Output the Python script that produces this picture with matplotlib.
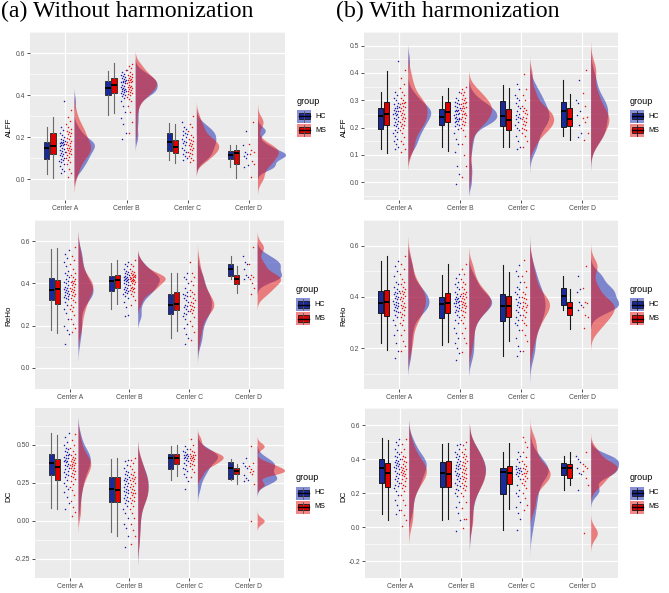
import numpy as np
import matplotlib
matplotlib.use("Agg")
import matplotlib.pyplot as plt
from matplotlib.patches import Rectangle

# ---------------- data ----------------
centers = ["Center A", "Center B", "Center C", "Center D"]
groups = ["HC", "MS"]
group_n = [130, 130, 30, 8]   # rough group sizes, used for how far each density reaches

# box stats per center: (whisker low, q1, median, q3, whisker high)
alff_a_box_hc = [(0.022, 0.097, 0.149, 0.177, 0.246), (0.306, 0.400, 0.431, 0.469, 0.513),
                 (0.091, 0.133, 0.176, 0.218, 0.267), (0.055, 0.095, 0.112, 0.133, 0.160)]
alff_a_box_ms = [(0.006, 0.118, 0.157, 0.218, 0.297), (0.315, 0.409, 0.446, 0.481, 0.552),
                 (0.078, 0.125, 0.152, 0.188, 0.264), (0.007, 0.070, 0.122, 0.137, 0.163)]
alff_a_hc = [
    [0.03, 0.04, 0.05, 0.06, 0.07, 0.08, 0.085, 0.09, 0.095, 0.10, 0.11, 0.115, 0.12, 0.125, 0.13, 0.135, 0.14, 0.145,
     0.15, 0.155, 0.16, 0.16, 0.165, 0.17, 0.17, 0.175, 0.175, 0.18, 0.185, 0.19, 0.20, 0.21, 0.22, 0.235, 0.25, 0.37],
    [0.19, 0.22, 0.26, 0.29, 0.32, 0.35, 0.37, 0.385, 0.395, 0.40, 0.405, 0.41, 0.415, 0.42, 0.42, 0.425, 0.43, 0.43,
     0.435, 0.44, 0.445, 0.45, 0.455, 0.46, 0.46, 0.465, 0.465, 0.47, 0.475, 0.48, 0.485, 0.49, 0.495, 0.50, 0.51, 0.52],
    [0.09, 0.10, 0.11, 0.12, 0.13, 0.14, 0.15, 0.16, 0.17, 0.175, 0.18, 0.19, 0.20, 0.21, 0.215, 0.22, 0.23, 0.24,
     0.25, 0.27],
    [0.055, 0.065, 0.10, 0.11, 0.12, 0.13, 0.16, 0.23]]
alff_a_ms = [
    [0.01, 0.03, 0.05, 0.07, 0.08, 0.09, 0.10, 0.105, 0.115, 0.12, 0.125, 0.13, 0.135, 0.14, 0.145, 0.15, 0.15, 0.155,
     0.16, 0.165, 0.17, 0.175, 0.18, 0.19, 0.195, 0.205, 0.215, 0.22, 0.225, 0.23, 0.24, 0.25, 0.26, 0.275, 0.295, 0.33],
    [0.22, 0.27, 0.32, 0.35, 0.37, 0.38, 0.39, 0.40, 0.405, 0.41, 0.415, 0.42, 0.425, 0.43, 0.435, 0.44, 0.44, 0.445,
     0.45, 0.455, 0.46, 0.46, 0.465, 0.47, 0.47, 0.475, 0.48, 0.485, 0.49, 0.495, 0.50, 0.51, 0.52, 0.53, 0.54, 0.55],
    [0.08, 0.09, 0.10, 0.11, 0.12, 0.125, 0.13, 0.14, 0.145, 0.15, 0.155, 0.16, 0.165, 0.17, 0.18, 0.185, 0.19, 0.20,
     0.21, 0.23, 0.25, 0.26, 0.30],
    [0.01, 0.07, 0.085, 0.12, 0.13, 0.14, 0.165, 0.27]]

alff_b_box_hc = [(0.120, 0.196, 0.242, 0.273, 0.330), (0.130, 0.211, 0.239, 0.269, 0.315),
                 (0.130, 0.207, 0.243, 0.297, 0.357), (0.168, 0.202, 0.260, 0.293, 0.375)]
alff_b_box_ms = [(0.106, 0.208, 0.250, 0.292, 0.409), (0.113, 0.220, 0.258, 0.292, 0.346),
                 (0.130, 0.192, 0.228, 0.267, 0.346), (0.156, 0.207, 0.232, 0.273, 0.324)]
alff_b_hc = [
    [0.12, 0.13, 0.14, 0.15, 0.16, 0.17, 0.18, 0.185, 0.19, 0.20, 0.205, 0.21, 0.215, 0.22, 0.225, 0.23, 0.235, 0.24,
     0.245, 0.25, 0.25, 0.255, 0.26, 0.26, 0.265, 0.27, 0.27, 0.275, 0.28, 0.285, 0.29, 0.30, 0.31, 0.32, 0.33, 0.445],
    [-0.005, 0.03, 0.06, 0.11, 0.14, 0.16, 0.18, 0.195, 0.205, 0.21, 0.215, 0.22, 0.225, 0.225, 0.23, 0.23, 0.235, 0.235,
     0.24, 0.245, 0.25, 0.25, 0.255, 0.26, 0.26, 0.265, 0.265, 0.27, 0.275, 0.28, 0.285, 0.29, 0.295, 0.30, 0.31, 0.33],
    [0.12, 0.13, 0.15, 0.17, 0.19, 0.20, 0.21, 0.22, 0.23, 0.235, 0.24, 0.245, 0.25, 0.26, 0.27, 0.28, 0.29, 0.30,
     0.31, 0.32, 0.34, 0.36],
    [0.165, 0.18, 0.21, 0.245, 0.26, 0.29, 0.30, 0.375]]
alff_b_ms = [
    [0.11, 0.12, 0.14, 0.15, 0.165, 0.18, 0.19, 0.20, 0.205, 0.21, 0.215, 0.22, 0.225, 0.23, 0.235, 0.24, 0.245, 0.25,
     0.255, 0.26, 0.265, 0.27, 0.275, 0.28, 0.285, 0.29, 0.29, 0.295, 0.30, 0.31, 0.32, 0.33, 0.345, 0.36, 0.38, 0.41],
    [0.02, 0.06, 0.10, 0.14, 0.17, 0.19, 0.20, 0.21, 0.215, 0.22, 0.225, 0.23, 0.235, 0.24, 0.245, 0.25, 0.25, 0.255,
     0.26, 0.265, 0.27, 0.27, 0.275, 0.28, 0.285, 0.29, 0.29, 0.295, 0.30, 0.305, 0.31, 0.32, 0.325, 0.33, 0.34, 0.35],
    [0.13, 0.15, 0.17, 0.18, 0.19, 0.195, 0.20, 0.21, 0.215, 0.22, 0.225, 0.23, 0.235, 0.24, 0.25, 0.255, 0.26, 0.265,
     0.27, 0.28, 0.30, 0.32, 0.34, 0.395],
    [0.155, 0.18, 0.22, 0.235, 0.24, 0.28, 0.325, 0.41]]

reho_a_box_hc = [(0.180, 0.321, 0.369, 0.427, 0.561), (0.280, 0.364, 0.411, 0.437, 0.498),
                 (0.140, 0.256, 0.298, 0.350, 0.448), (0.420, 0.435, 0.467, 0.494, 0.530)]
reho_a_box_ms = [(0.166, 0.303, 0.374, 0.415, 0.566), (0.303, 0.380, 0.417, 0.439, 0.509),
                 (0.173, 0.274, 0.303, 0.360, 0.448), (0.354, 0.399, 0.421, 0.442, 0.482)]
reho_a_hc = [
    [0.115, 0.16, 0.18, 0.20, 0.23, 0.26, 0.28, 0.30, 0.31, 0.325, 0.33, 0.335, 0.34, 0.345, 0.35, 0.355, 0.36, 0.365,
     0.37, 0.375, 0.38, 0.385, 0.39, 0.40, 0.405, 0.41, 0.42, 0.43, 0.44, 0.45, 0.46, 0.48, 0.50, 0.52, 0.54, 0.56],
    [0.245, 0.25, 0.29, 0.31, 0.33, 0.34, 0.35, 0.355, 0.36, 0.365, 0.37, 0.375, 0.38, 0.385, 0.39, 0.395, 0.40, 0.405,
     0.41, 0.415, 0.415, 0.42, 0.42, 0.425, 0.43, 0.43, 0.435, 0.44, 0.445, 0.45, 0.455, 0.46, 0.47, 0.48, 0.49, 0.50],
    [0.115, 0.14, 0.16, 0.19, 0.21, 0.23, 0.245, 0.255, 0.26, 0.27, 0.28, 0.29, 0.295, 0.30, 0.31, 0.32, 0.33, 0.34,
     0.345, 0.35, 0.36, 0.38, 0.40, 0.42, 0.43, 0.45],
    [0.42, 0.43, 0.44, 0.47, 0.49, 0.50, 0.53]]
reho_a_ms = [
    [0.17, 0.19, 0.21, 0.23, 0.25, 0.27, 0.28, 0.29, 0.30, 0.31, 0.32, 0.33, 0.34, 0.345, 0.35, 0.36, 0.365, 0.37,
     0.375, 0.38, 0.385, 0.39, 0.395, 0.40, 0.405, 0.41, 0.41, 0.42, 0.43, 0.44, 0.45, 0.47, 0.49, 0.51, 0.53, 0.57],
    [0.30, 0.32, 0.34, 0.35, 0.36, 0.365, 0.37, 0.375, 0.378, 0.38, 0.385, 0.39, 0.395, 0.40, 0.405, 0.41, 0.41, 0.415,
     0.418, 0.42, 0.422, 0.425, 0.428, 0.43, 0.432, 0.435, 0.438, 0.44, 0.445, 0.45, 0.455, 0.46, 0.47, 0.48, 0.49, 0.51],
    [0.13, 0.17, 0.20, 0.22, 0.24, 0.26, 0.27, 0.275, 0.28, 0.29, 0.295, 0.30, 0.305, 0.31, 0.32, 0.33, 0.34, 0.35,
     0.36, 0.37, 0.39, 0.41, 0.43, 0.45, 0.50],
    [0.35, 0.38, 0.40, 0.42, 0.43, 0.44, 0.49, 0.57]]

reho_b_box_hc = [(0.219, 0.339, 0.378, 0.422, 0.539), (0.212, 0.316, 0.372, 0.401, 0.487),
                 (0.170, 0.306, 0.366, 0.412, 0.523), (0.350, 0.370, 0.402, 0.435, 0.480)]
reho_b_box_ms = [(0.193, 0.324, 0.381, 0.427, 0.560), (0.224, 0.339, 0.376, 0.417, 0.529),
                 (0.228, 0.322, 0.366, 0.405, 0.499), (0.276, 0.328, 0.358, 0.381, 0.432)]
reho_b_hc = [
    [0.16, 0.19, 0.22, 0.25, 0.27, 0.29, 0.31, 0.32, 0.33, 0.34, 0.345, 0.35, 0.355, 0.36, 0.365, 0.37, 0.372, 0.375,
     0.38, 0.385, 0.39, 0.395, 0.40, 0.405, 0.41, 0.415, 0.42, 0.425, 0.43, 0.44, 0.45, 0.46, 0.48, 0.50, 0.52, 0.54],
    [0.155, 0.18, 0.20, 0.22, 0.24, 0.26, 0.28, 0.30, 0.31, 0.32, 0.33, 0.34, 0.345, 0.35, 0.355, 0.36, 0.365, 0.37,
     0.375, 0.378, 0.38, 0.383, 0.386, 0.39, 0.393, 0.396, 0.40, 0.405, 0.41, 0.42, 0.43, 0.44, 0.45, 0.46, 0.475, 0.49],
    [0.17, 0.19, 0.21, 0.24, 0.27, 0.29, 0.30, 0.31, 0.32, 0.33, 0.34, 0.35, 0.36, 0.37, 0.375, 0.38, 0.39, 0.40,
     0.41, 0.42, 0.43, 0.44, 0.46, 0.48, 0.50, 0.525],
    [0.35, 0.37, 0.38, 0.42, 0.43, 0.48]]
reho_b_ms = [
    [0.19, 0.21, 0.23, 0.25, 0.27, 0.29, 0.30, 0.31, 0.32, 0.33, 0.335, 0.34, 0.35, 0.355, 0.36, 0.365, 0.37, 0.375,
     0.385, 0.39, 0.395, 0.40, 0.405, 0.41, 0.415, 0.42, 0.425, 0.43, 0.44, 0.45, 0.46, 0.47, 0.49, 0.51, 0.53, 0.56],
    [0.185, 0.22, 0.24, 0.26, 0.28, 0.30, 0.31, 0.32, 0.33, 0.34, 0.345, 0.35, 0.355, 0.36, 0.365, 0.37, 0.372, 0.375,
     0.38, 0.385, 0.39, 0.395, 0.40, 0.405, 0.41, 0.412, 0.415, 0.42, 0.43, 0.44, 0.45, 0.46, 0.47, 0.49, 0.51, 0.53],
    [0.19, 0.23, 0.25, 0.27, 0.29, 0.30, 0.31, 0.32, 0.33, 0.34, 0.35, 0.355, 0.36, 0.365, 0.37, 0.375, 0.38, 0.39,
     0.395, 0.40, 0.41, 0.42, 0.44, 0.46, 0.48, 0.50, 0.545],
    [0.28, 0.32, 0.33, 0.36, 0.375, 0.38, 0.435, 0.52]]

dc_a_box_hc = [(0.083, 0.299, 0.380, 0.438, 0.575), (-0.070, 0.126, 0.209, 0.286, 0.404),
               (0.271, 0.342, 0.410, 0.436, 0.489), (0.267, 0.278, 0.348, 0.389, 0.406)]
dc_a_box_ms = [(0.075, 0.271, 0.355, 0.408, 0.566), (-0.096, 0.126, 0.205, 0.286, 0.410),
               (0.293, 0.372, 0.410, 0.436, 0.498), (0.244, 0.308, 0.325, 0.344, 0.374)]
dc_a_hc = [
    [0.08, 0.12, 0.16, 0.19, 0.21, 0.23, 0.25, 0.27, 0.29, 0.30, 0.31, 0.32, 0.33, 0.34, 0.35, 0.36, 0.37, 0.375,
     0.385, 0.39, 0.395, 0.40, 0.41, 0.415, 0.42, 0.43, 0.435, 0.44, 0.45, 0.46, 0.47, 0.48, 0.50, 0.52, 0.55, 0.58],
    [-0.17, -0.10, -0.05, -0.02, 0.02, 0.05, 0.08, 0.10, 0.12, 0.13, 0.14, 0.15, 0.16, 0.17, 0.18, 0.19, 0.195, 0.205,
     0.21, 0.22, 0.23, 0.24, 0.25, 0.26, 0.27, 0.275, 0.28, 0.29, 0.30, 0.31, 0.32, 0.33, 0.35, 0.37, 0.39, 0.40],
    [0.21, 0.26, 0.29, 0.31, 0.33, 0.34, 0.35, 0.37, 0.38, 0.39, 0.40, 0.41, 0.415, 0.42, 0.425, 0.43, 0.435, 0.44,
     0.45, 0.46, 0.47, 0.49],
    [0.26, 0.27, 0.28, 0.30, 0.35, 0.36, 0.38, 0.41]]
dc_a_ms = [
    [0.03, 0.06, 0.09, 0.13, 0.17, 0.20, 0.22, 0.24, 0.26, 0.275, 0.285, 0.295, 0.305, 0.315, 0.325, 0.335, 0.345, 0.35,
     0.36, 0.365, 0.37, 0.375, 0.38, 0.385, 0.39, 0.40, 0.405, 0.41, 0.42, 0.43, 0.44, 0.46, 0.48, 0.50, 0.53, 0.57],
    [-0.15, -0.10, -0.06, -0.02, 0.02, 0.05, 0.08, 0.10, 0.12, 0.13, 0.14, 0.15, 0.16, 0.17, 0.18, 0.185, 0.19, 0.20,
     0.21, 0.22, 0.23, 0.24, 0.25, 0.26, 0.27, 0.275, 0.28, 0.29, 0.30, 0.31, 0.32, 0.34, 0.36, 0.38, 0.40, 0.41],
    [0.29, 0.32, 0.34, 0.36, 0.37, 0.375, 0.38, 0.39, 0.40, 0.405, 0.41, 0.415, 0.42, 0.425, 0.43, 0.435, 0.44, 0.45,
     0.46, 0.47, 0.50, 0.54],
    [0.0, 0.24, 0.31, 0.32, 0.33, 0.34, 0.36, 0.38, 0.49]]

dc_b_box_hc = [(0.078, 0.258, 0.349, 0.400, 0.521), (0.040, 0.233, 0.317, 0.384, 0.490),
               (-0.015, 0.193, 0.324, 0.348, 0.444), (0.217, 0.306, 0.348, 0.378, 0.415)]
dc_b_box_ms = [(0.040, 0.238, 0.315, 0.375, 0.512), (0.045, 0.238, 0.312, 0.387, 0.495),
               (0.105, 0.255, 0.315, 0.360, 0.495), (0.245, 0.290, 0.345, 0.370, 0.440)]
dc_b_hc = [
    [0.075, 0.10, 0.13, 0.16, 0.19, 0.21, 0.23, 0.24, 0.25, 0.26, 0.27, 0.28, 0.29, 0.30, 0.31, 0.32, 0.33, 0.34,
     0.35, 0.355, 0.36, 0.365, 0.37, 0.375, 0.38, 0.39, 0.395, 0.40, 0.41, 0.42, 0.43, 0.44, 0.46, 0.48, 0.50, 0.52],
    [-0.025, 0.04, 0.08, 0.12, 0.15, 0.18, 0.20, 0.215, 0.225, 0.24, 0.25, 0.26, 0.27, 0.28, 0.29, 0.30, 0.305, 0.31,
     0.32, 0.33, 0.34, 0.345, 0.35, 0.36, 0.365, 0.37, 0.38, 0.39, 0.40, 0.41, 0.42, 0.43, 0.44, 0.46, 0.48, 0.49],
    [-0.02, 0.05, 0.08, 0.12, 0.15, 0.18, 0.20, 0.22, 0.25, 0.28, 0.30, 0.31, 0.32, 0.325, 0.33, 0.335, 0.34, 0.345,
     0.35, 0.36, 0.38, 0.40, 0.42, 0.44],
    [0.215, 0.31, 0.32, 0.35, 0.38, 0.40, 0.415]]
dc_b_ms = [
    [0.005, 0.04, 0.07, 0.10, 0.13, 0.16, 0.19, 0.21, 0.23, 0.24, 0.25, 0.26, 0.27, 0.28, 0.29, 0.30, 0.305, 0.31,
     0.32, 0.325, 0.33, 0.335, 0.34, 0.35, 0.355, 0.36, 0.37, 0.38, 0.39, 0.40, 0.41, 0.42, 0.44, 0.46, 0.49, 0.52],
    [-0.005, 0.045, 0.05, 0.11, 0.15, 0.18, 0.20, 0.22, 0.23, 0.24, 0.25, 0.26, 0.27, 0.28, 0.29, 0.295, 0.30, 0.31,
     0.315, 0.325, 0.335, 0.34, 0.35, 0.36, 0.365, 0.375, 0.385, 0.39, 0.40, 0.41, 0.42, 0.43, 0.44, 0.46, 0.48, 0.50],
    [0.10, 0.13, 0.17, 0.20, 0.23, 0.25, 0.26, 0.27, 0.28, 0.29, 0.30, 0.31, 0.315, 0.32, 0.33, 0.34, 0.35, 0.36,
     0.37, 0.39, 0.41, 0.44, 0.47, 0.50, 0.53],
    [-0.035, 0.25, 0.29, 0.33, 0.35, 0.36, 0.37, 0.44]]

# axis ticks per panel
alff_a_ticks = [0.0, 0.2, 0.4, 0.6]
alff_b_ticks = [0.0, 0.1, 0.2, 0.3, 0.4, 0.5]
reho_a_ticks = [0.0, 0.2, 0.4, 0.6]
reho_b_ticks = [0.2, 0.4, 0.6]
dc_a_ticks = [-0.25, 0.0, 0.25, 0.50]
dc_b_ticks = [-0.2, 0.0, 0.2, 0.4, 0.6]

# ---------------- style ----------------
W, H = 669, 593
fig = plt.figure(figsize=(W / 100, H / 100), dpi=100)
sans = "Liberation Sans"
serif = "Liberation Serif"
bg = "#EBEBEB"
box_fill = {"HC": "#1B2A9B", "MS": "#E00000"}
pt_col = {"HC": "#1A1AAA", "MS": "#E81010"}
vio_col = {"HC": "#1020B0", "MS": "#E81010"}


def px_axes(l, t, r, b):
    return fig.add_axes([l / W, 1 - b / H, (r - l) / W, (b - t) / H])


def nrd0(v, n):
    sd = v.std(ddof=1)
    iqr = np.percentile(v, 75) - np.percentile(v, 25)
    lo = min(sd, iqr / 1.34) if iqr > 0 else sd
    return 0.9 * lo * n ** -0.2


def kde(vals, n_group):
    v = np.asarray(vals, float)
    bw = nrd0(v, len(v))          # smoothing from the listed points
    reach = 3 * nrd0(v, n_group)  # how far the density runs past the data
    y = np.linspace(v.min() - reach, v.max() + reach, 400)
    d = np.exp(-0.5 * ((y[:, None] - v[None, :]) / bw) ** 2).sum(1) / (len(v) * bw * np.sqrt(2 * np.pi))
    return y, d


def jitter(n, half):
    return ((np.arange(n) * 0.618034 + 0.3) % 1 - 0.5) * 2 * half


def panel(rect, hc, ms, box_hc, box_ms, ticks, ylim, fmt, harm):
    ax = px_axes(*rect)
    ax.set_facecolor(bg)
    for s in ax.spines.values():
        s.set_visible(False)
    ax.set_xlim(0.42, 4.59)
    ax.set_ylim(*ylim)
    step = ticks[1] - ticks[0]
    minors = [t - step / 2 for t in ticks] + [ticks[-1] + step / 2]
    ax.set_yticks(ticks)
    ax.set_yticklabels([fmt % t for t in ticks])
    ax.set_yticks(minors, minor=True)
    ax.set_xticks(range(1, 5))
    ax.set_xticklabels(centers)
    ax.grid(True, which="major", color="white", lw=0.9, zorder=0)
    ax.grid(True, which="minor", axis="y", color="white", lw=0.45, zorder=0)
    ax.set_axisbelow(True)
    ax.tick_params(which="major", length=2, width=0.6, color="#333333", labelsize=4.9,
                   labelcolor="#4D4D4D", pad=1.5)
    ax.tick_params(which="minor", length=0)
    for lab in ax.get_xticklabels() + ax.get_yticklabels():
        lab.set_family(sans)

    # half violins, area scaled within the panel
    dens = []
    for c in range(4):
        for g, data in (("HC", hc), ("MS", ms)):
            y, d = kde(data[c], max(group_n[c], len(data[c])))
            dens.append((c, g, y, d))
    dmax = max(d.max() for _, _, _, d in dens)
    for c, g, y, d in dens:
        base = c + 1 + 0.14
        ax.fill_betweenx(y, base, base + d / dmax * 0.46, color=vio_col[g], alpha=0.5, lw=0, zorder=2)

    # jittered points
    for g, data, off in (("HC", hc, -0.055), ("MS", ms, 0.052)):
        for c in range(4):
            v = np.asarray(data[c])
            ax.scatter(c + 1 + off + jitter(len(v), 0.045), v, s=1.2, color=pt_col[g], lw=0, zorder=3)

    # boxes
    edge = "#1a1a1a" if harm else "#333333"
    wcol = "#1a1a1a" if harm else "#6a6a6a"
    for g, stats, off in (("HC", box_hc, -0.305), ("MS", box_ms, -0.205)):
        bx = [dict(whislo=s[0], q1=s[1], med=s[2], q3=s[3], whishi=s[4], fliers=[]) for s in stats]
        ax.bxp(bx, positions=[c + 1 + off for c in range(4)], widths=0.085, patch_artist=True,
               showcaps=False, showfliers=False, manage_ticks=False,
               boxprops=dict(facecolor=box_fill[g], edgecolor=edge, lw=0.7),
               whiskerprops=dict(color=wcol, lw=0.8),
               medianprops=dict(color="black", lw=1.4), zorder=4)
    return ax


# overlay for titles, axis titles and legends (pixel coordinates)
ov = fig.add_axes([0, 0, 1, 1], zorder=10)
ov.set_xlim(0, W)
ov.set_ylim(H, 0)
ov.axis("off")
ov.patch.set_alpha(0)

ov.text(1, 0.5, "(a) Without harmonization", family=serif, fontsize=17.2, va="top", ha="left")
ov.text(336, 0.5, "(b) With harmonization", family=serif, fontsize=17.2, va="top", ha="left")

rows = [
    ("ALFF", (alff_a_hc, alff_a_ms, alff_a_box_hc, alff_a_box_ms, alff_a_ticks, (-0.1, 0.645), "%.1f"),
             (alff_b_hc, alff_b_ms, alff_b_box_hc, alff_b_box_ms, alff_b_ticks, (-0.065, 0.535), "%.1f"),
     (30, 32, 285, 200), (364, 32, 618, 200), 127),
    ("ReHo", (reho_a_hc, reho_a_ms, reho_a_box_hc, reho_a_box_ms, reho_a_ticks, (-0.008, 0.677), "%.1f"),
             (reho_b_hc, reho_b_ms, reho_b_box_hc, reho_b_box_ms, reho_b_ticks, (0.041, 0.655), "%.1f"),
     (35, 220, 284, 389), (364, 220, 618, 389), 316),
    ("DC", (dc_a_hc, dc_a_ms, dc_a_box_hc, dc_a_box_ms, dc_a_ticks, (-0.344, 0.741), "%.2f"),
           (dc_b_hc, dc_b_ms, dc_b_box_hc, dc_b_box_ms, dc_b_ticks, (-0.205, 0.667), "%.1f"),
     (35, 408, 284, 578), (365, 408, 618, 578), 496),
]

for name, left, right, rect_a, rect_b, ylab_y in rows:
    for spec, rect, harm, col_x in ((left, rect_a, False, 0), (right, rect_b, True, 335)):
        hc, ms, bhc, bms, ticks, ylim, fmt = spec
        panel(rect, hc, ms, bhc, bms, ticks, ylim, fmt, harm)
        ov.text(col_x + 9, ylab_y, name, family=sans, fontsize=5.8, rotation=90,
                ha="center", va="center")
        # legend
        cy = (rect[1] + rect[3]) / 2
        lx = rect[2] + 12
        ov.text(lx, cy - 15, "group", family=sans, fontsize=6.5, ha="left", va="center")
        for k, g in enumerate(groups):
            ky = cy + k * 14
            ov.add_patch(Rectangle((lx, ky - 6.5), 14, 13, facecolor=vio_col[g], alpha=0.5, lw=0))
            ov.plot([lx + 7, lx + 7], [ky - 5.5, ky + 5.5], color="#1a1a1a" if harm else "#555555", lw=0.6)
            ov.add_patch(Rectangle((lx + 1.5, ky - 3.2), 11, 6.4, facecolor=box_fill[g],
                                   edgecolor="#1a1a1a", lw=0.6))
            ov.plot([lx + 1.5, lx + 12.5], [ky, ky], color="black", lw=1.0)
            ov.text(lx + 18, ky, g, family=sans, fontsize=5.2, ha="left", va="center")

fig.savefig("out.png", dpi=100)
